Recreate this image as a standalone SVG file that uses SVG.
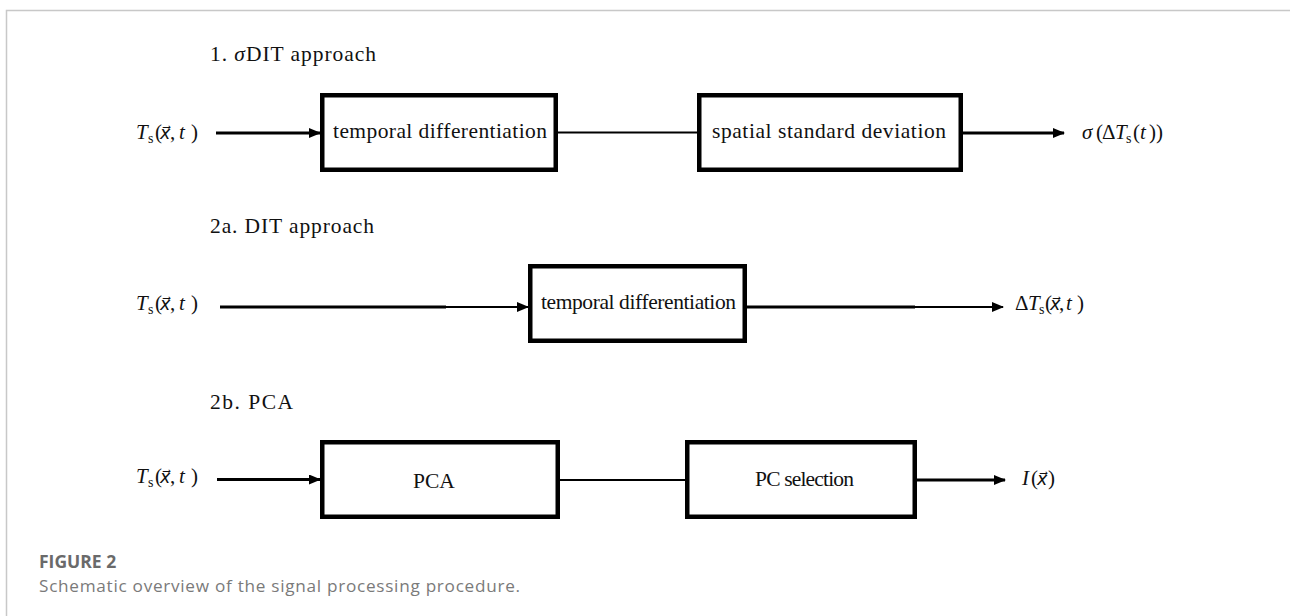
<svg xmlns="http://www.w3.org/2000/svg" width="1290" height="616" viewBox="0 0 1290 616">
<defs>
<style>
.t{font-family:"Liberation Serif","Times New Roman",serif;font-size:21.5px;fill:#111}
.m{font-family:"Liberation Serif","Times New Roman",serif;font-size:21px;fill:#111}
.i{font-style:italic}
.sub{font-size:14px}
.vx{font-family:"DejaVu Sans",sans-serif;font-style:italic;font-size:17.5px}
.box{fill:#fff;stroke:#000;stroke-width:4.5}
.thick{stroke:#000;stroke-width:3.2;fill:none}
.thin{stroke:#000;stroke-width:2;fill:none}
.cap1{font-family:"Open Sans","Noto Sans",sans-serif;font-size:17.5px;font-weight:700;fill:#6a6a6a}
.cap2{font-family:"Open Sans","Noto Sans",sans-serif;font-size:17.2px;fill:#7a7a7a}
</style>
<marker id="ah" markerWidth="12" markerHeight="10" refX="11" refY="5" orient="auto" markerUnits="userSpaceOnUse">
<path d="M0,0 L12,5 L0,10 Z" fill="#000"/>
</marker>
</defs>
<rect width="1290" height="616" fill="#fff"/>
<path d="M6.5,616 V10.5 H1290" stroke="#c8c8c8" stroke-width="1.5" fill="none"/>

<g id="titles">
<text class="t" x="210" y="61" textLength="166" lengthAdjust="spacing">1.  <tspan class="i">σ</tspan>DIT approach</text>
<text class="t" x="210" y="233" textLength="164" lengthAdjust="spacing">2a.  DIT approach</text>
<text class="t" x="210" y="409" textLength="83" lengthAdjust="spacing">2b.  PCA</text>
</g>

<g id="connectors">
<line class="thick" x1="216" y1="133" x2="320" y2="133" marker-end="url(#ah)"/>
<line class="thin" x1="558" y1="132.5" x2="697" y2="132.5"/>
<line class="thick" x1="963" y1="133" x2="1064" y2="133" marker-end="url(#ah)"/>

<line class="thick" x1="220" y1="307" x2="446" y2="307"/>
<line class="thin" x1="446" y1="307" x2="528" y2="307" marker-end="url(#ah)"/>
<line class="thick" x1="747" y1="307" x2="915" y2="307"/>
<line class="thin" x1="915" y1="307" x2="1003" y2="307" marker-end="url(#ah)"/>

<line class="thick" x1="217" y1="479.5" x2="320" y2="479.5" marker-end="url(#ah)"/>
<line class="thin" x1="560" y1="480" x2="686" y2="480"/>
<line class="thick" x1="917" y1="480" x2="1005" y2="480" marker-end="url(#ah)"/>
</g>

<g id="in1">
<text class="m" y="139"><tspan class="i" x="136">T</tspan><tspan class="sub" x="148" y="143">s</tspan><tspan x="155" y="139">(</tspan><tspan class="vx" x="160">x⃗</tspan><tspan x="170">,</tspan><tspan class="i" x="179">t</tspan><tspan x="191">)</tspan></text>
</g>
<g id="box1a"><rect class="box" x="322.25" y="95.25" width="233.5" height="74.5"/><text class="t" x="333" y="138" textLength="214" lengthAdjust="spacing">temporal differentiation</text></g>
<g id="box1b"><rect class="box" x="699.25" y="95.25" width="261.5" height="74.5"/><text class="t" x="712" y="138" textLength="234" lengthAdjust="spacing">spatial standard deviation</text></g>
<g id="out1">
<text class="m" y="139"><tspan class="i" x="1082">σ</tspan><tspan x="1096">(</tspan><tspan x="1102">Δ</tspan><tspan class="i" x="1115">T</tspan><tspan class="sub" x="1126" y="143">s</tspan><tspan x="1133" y="139">(</tspan><tspan class="i" x="1140">t</tspan><tspan x="1149">)</tspan><tspan x="1156">)</tspan></text>
</g>

<g id="in2">
<text class="m" y="310"><tspan class="i" x="136">T</tspan><tspan class="sub" x="148" y="314">s</tspan><tspan x="155" y="310">(</tspan><tspan class="vx" x="160">x⃗</tspan><tspan x="170">,</tspan><tspan class="i" x="179">t</tspan><tspan x="191">)</tspan></text>
</g>
<g id="box2"><rect class="box" x="530.25" y="266.25" width="214.5" height="74.5"/><text class="t" x="541" y="309" textLength="195" lengthAdjust="spacing">temporal differentiation</text></g>
<g id="out2">
<text class="m" y="310"><tspan x="1015">Δ</tspan><tspan class="i" x="1028">T</tspan><tspan class="sub" x="1039" y="314">s</tspan><tspan x="1045" y="310">(</tspan><tspan class="vx" x="1050">x⃗</tspan><tspan x="1059">,</tspan><tspan class="i" x="1066">t</tspan><tspan x="1077">)</tspan></text>
</g>

<g id="in3">
<text class="m" y="483"><tspan class="i" x="136">T</tspan><tspan class="sub" x="148" y="487">s</tspan><tspan x="155" y="483">(</tspan><tspan class="vx" x="160">x⃗</tspan><tspan x="170">,</tspan><tspan class="i" x="179">t</tspan><tspan x="191">)</tspan></text>
</g>
<g id="box3a"><rect class="box" x="322.25" y="442.25" width="235.5" height="74.5"/><text class="t" x="413" y="488" font-size="22">PCA</text></g>
<g id="box3b"><rect class="box" x="687.25" y="442.25" width="227.5" height="74.5"/><text class="t" x="755" y="486" textLength="99" lengthAdjust="spacing">PC selection</text></g>
<g id="out3">
<text class="m" y="485"><tspan class="i" x="1022">I</tspan><tspan x="1031">(</tspan><tspan class="vx" x="1037">x⃗</tspan><tspan x="1048">)</tspan></text>
</g>

<g id="caption">
<text class="cap1" x="39" y="568">FIGURE 2</text>
<text class="cap2" x="39" y="592" textLength="481" lengthAdjust="spacing">Schematic overview of the signal processing procedure.</text>
</g>
</svg>
